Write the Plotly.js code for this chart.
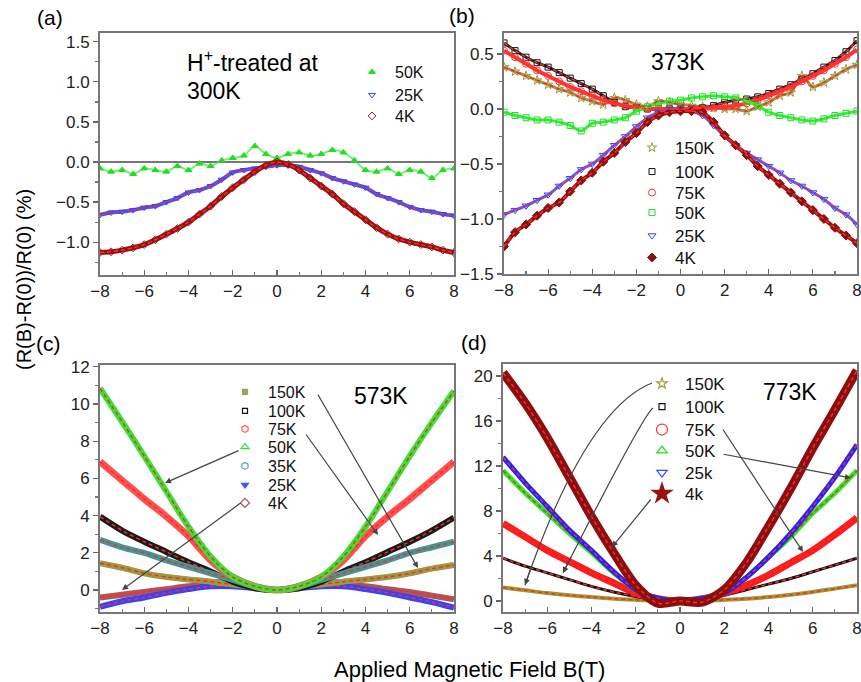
<!DOCTYPE html>
<html>
<head>
<meta charset="utf-8">
<script src="https://cdn.plot.ly/plotly-3.0.1.min.js"></script>
<style>html,body{margin:0;padding:0;background:#fff}#chart{width:861px;height:682px}</style>
</head>
<body>
<div id="chart"></div>
<script>
// ---------------- DATA ----------------
const B_ab = [-8,-7.5,-7,-6.5,-6,-5.5,-5,-4.5,-4,-3.5,-3,-2.5,-2,-1.5,-1,-0.5,0,0.5,1,1.5,2,2.5,3,3.5,4,4.5,5,5.5,6,6.5,7,7.5,8];
const B_cd = [-8,-7,-6,-5,-4,-3,-2,-1,0,1,2,3,4,5,6,7,8];

// (a) H+-treated at 300K
const a_50K = [-0.08,-0.12,-0.1,-0.15,-0.08,-0.1,-0.12,-0.05,-0.1,-0.02,-0.05,0.02,0.05,0.08,0.2,0.1,0.05,0.1,0.12,0.08,0.1,0.15,0.12,0.02,-0.1,-0.12,-0.08,-0.15,-0.1,-0.12,-0.2,-0.1,-0.08];
const a_25K = [-0.66,-0.63,-0.62,-0.6,-0.57,-0.55,-0.5,-0.45,-0.38,-0.35,-0.3,-0.22,-0.13,-0.1,-0.08,-0.06,-0.04,-0.04,-0.06,-0.1,-0.14,-0.2,-0.24,-0.28,-0.32,-0.4,-0.45,-0.5,-0.56,-0.6,-0.62,-0.65,-0.67];
const a_4K  = [-1.13,-1.12,-1.1,-1.07,-1.03,-0.97,-0.9,-0.83,-0.75,-0.65,-0.55,-0.43,-0.32,-0.22,-0.12,-0.04,0.0,-0.03,-0.1,-0.2,-0.3,-0.4,-0.52,-0.62,-0.72,-0.82,-0.9,-0.96,-1.0,-1.03,-1.06,-1.1,-1.13];

// (b) 373K
const b_150K = [0.38,0.34,0.3,0.26,0.22,0.18,0.15,0.1,0.07,0.04,0.1,0.08,0.04,0.02,0.07,0.06,0.04,0.03,0.02,0.01,0.0,0.0,-0.02,0.02,0.06,0.12,0.15,0.3,0.2,0.24,0.3,0.36,0.4];
const b_100K = [0.6,0.53,0.47,0.42,0.38,0.33,0.28,0.23,0.18,0.12,0.06,0.02,0.01,0.0,0.0,0.0,0.0,0.0,0.01,0.03,0.06,0.08,0.09,0.11,0.14,0.18,0.22,0.27,0.32,0.38,0.44,0.52,0.62];
const b_75K  = [0.53,0.47,0.41,0.35,0.3,0.25,0.2,0.16,0.12,0.08,0.05,0.03,0.01,0.0,0.0,0.0,0.0,0.0,0.0,0.01,0.02,0.03,0.05,0.08,0.12,0.16,0.2,0.25,0.3,0.35,0.41,0.47,0.54];
const b_50K  = [-0.03,-0.06,-0.08,-0.1,-0.1,-0.12,-0.15,-0.2,-0.13,-0.12,-0.1,-0.08,-0.02,0.02,0.05,0.07,0.08,0.1,0.11,0.12,0.11,0.1,0.07,0.03,-0.03,-0.06,-0.08,-0.1,-0.11,-0.09,-0.06,-0.04,-0.02];
const b_25K  = [-0.96,-0.92,-0.88,-0.83,-0.78,-0.7,-0.63,-0.55,-0.5,-0.42,-0.33,-0.25,-0.16,-0.08,-0.03,0.0,0.0,-0.02,-0.06,-0.15,-0.25,-0.33,-0.4,-0.46,-0.52,-0.58,-0.65,-0.7,-0.76,-0.82,-0.9,-0.96,-1.05];
const b_4K   = [-1.25,-1.12,-1.05,-0.97,-0.9,-0.85,-0.75,-0.65,-0.58,-0.48,-0.4,-0.3,-0.22,-0.12,-0.06,-0.03,-0.02,-0.02,-0.03,-0.12,-0.24,-0.33,-0.42,-0.52,-0.6,-0.68,-0.76,-0.84,-0.92,-1.0,-1.08,-1.15,-1.22];

// (c) 573K
const c_150K = [1.45,1.2,0.9,0.7,0.57,0.45,0.3,0.15,0,0.15,0.3,0.45,0.57,0.7,0.9,1.15,1.35];
const c_100K = [3.95,3.2,2.6,2.05,1.5,1.0,0.45,0.1,0,0.1,0.45,1.0,1.5,2.05,2.6,3.2,3.9];
const c_75K  = [6.9,5.9,4.9,3.95,2.9,1.6,0.7,0.2,0,0.2,0.7,1.6,2.9,3.95,4.9,5.9,6.9];
const c_50K  = [10.85,9.05,7.2,5.3,3.4,1.8,0.7,0.2,0,0.2,0.7,1.8,3.4,5.3,7.2,9.0,10.7];
const c_35K  = [2.7,2.3,2.0,1.6,1.25,0.9,0.55,0.2,0,0.2,0.55,0.9,1.25,1.6,2.0,2.3,2.6];
const c_25K  = [-0.9,-0.6,-0.4,-0.15,0.05,0.2,0.2,0.1,0,0.1,0.2,0.2,0.05,-0.15,-0.4,-0.65,-0.95];
const c_4K   = [-0.4,-0.25,-0.1,0.05,0.2,0.4,0.4,0.15,0,0.15,0.4,0.4,0.2,0.05,-0.1,-0.3,-0.5];

// (d) 773K
const d_150K = [1.2,0.95,0.7,0.5,0.35,0.2,0.1,0.02,0,0.02,0.1,0.2,0.35,0.55,0.8,1.1,1.4];
const d_100K = [3.8,3.1,2.5,1.9,1.3,0.8,0.4,0.1,0,0.1,0.5,1.0,1.5,2.0,2.6,3.2,3.8];
const d_75K  = [6.9,5.7,4.5,3.5,2.5,1.6,0.7,0.2,0,0.2,0.7,1.4,2.3,3.4,4.5,5.9,7.4];
const d_50K  = [11.6,9.6,7.8,6.0,4.3,2.5,1.0,0.25,0,0.25,0.8,2.1,3.9,5.7,7.8,9.6,11.6];
const d_25K  = [12.8,10.5,8.4,6.3,4.5,2.6,1.0,0.25,0,0.25,0.7,2.1,3.9,6.0,8.4,11.0,13.9];
const d_4K   = [20.3,17.6,14.5,11.0,7.5,4.3,1.4,-0.2,0,-0.1,1.0,3.4,6.6,10.0,13.6,17.0,20.5];

const xTicks = [-8,-6,-4,-2,0,2,4,6,8];

// ---------------- HELPERS ----------------
const W = 861, H = 682;
const px = v => v / W, py = v => 1 - v / H;
const FIT = '#ff2a2a';
const FONT = 'Arial, "Liberation Sans", sans-serif';
const traces = [];
const legends = {};
let legCount = 0;
function newLegend(mx, my, size) {
  legCount += 1;
  const id = legCount === 1 ? 'legend' : 'legend' + legCount;
  legends[id] = {x: px(mx - 23), y: py(my), xanchor: 'left', yanchor: 'middle', bgcolor: 'rgba(0,0,0,0)',
    font: {family: FONT, size, color: '#111'}, itemwidth: 36, itemsizing: 'trace'};
  return id;
}
function band(x, y, ax, color, width, opacity) {
  traces.push({x, y, xaxis: 'x' + ax, yaxis: 'y' + ax, mode: 'lines', showlegend: false, hoverinfo: 'skip',
    opacity: opacity || 1, line: {color, width, shape: 'spline', smoothing: 0.8}});
}
function fit(x, y, ax) {
  traces.push({x, y, xaxis: 'x' + ax, yaxis: 'y' + ax, mode: 'lines', showlegend: false, hoverinfo: 'skip',
    line: {color: FIT, width: 1.5, dash: '4px,3px', shape: 'spline', smoothing: 0.8}});
}
function pts(x, y, ax, name, symbol, color, size, lg) {
  traces.push({x, y, xaxis: 'x' + ax, yaxis: 'y' + ax, mode: 'markers', name, legend: newLegend(lg[0], lg[1], lg[2]),
    marker: {symbol, color, size, line: {color, width: 1}}});
}
function legOnly(ax, name, symbol, color, size, lg) {
  traces.push({x: [null], y: [null], xaxis: 'x' + ax, yaxis: 'y' + ax, mode: 'markers', name, legend: newLegend(lg[0], lg[1], lg[2]),
    marker: {symbol, color, size, line: {color, width: 1.2}}});
}

// (a)
band(B_ab, a_50K, '', '#33ee33', 2, 0.7);
pts(B_ab, a_50K, '', '50K', 'triangle-up', '#22dd22', 6, [372, 72, 16]);
band(B_ab, a_25K, '', '#4455ff', 4);
pts(B_ab, a_25K, '', '25K', 'triangle-down-open', '#3344ff', 6, [372, 95, 16]);
fit(B_ab, a_25K, '');
band(B_ab, a_4K, '', '#9a1010', 5);
pts(B_ab, a_4K, '', '4K', 'diamond-open', '#8b1a1a', 6, [372, 116, 16]);
fit(B_ab, a_4K, '');

// (b)
band(B_ab, b_150K, '2', '#9a9a40', 3);
pts(B_ab, b_150K, '2', '150K', 'star-open', '#9a9a40', 7, [652, 148, 17]);
band(B_ab, b_100K, '2', '#222222', 3);
pts(B_ab, b_100K, '2', '100K', 'square-open', '#111111', 6, [652, 172, 17]);
band(B_ab, b_75K, '2', '#ff3333', 4);
pts(B_ab, b_75K, '2', '75K', 'circle-open', '#ff3333', 7, [652, 193, 17]);
band(B_ab, b_50K, '2', '#33ee33', 3);
pts(B_ab, b_50K, '2', '50K', 'square-open', '#22dd22', 6, [652, 213, 17]);
band(B_ab, b_25K, '2', '#5566ff', 3);
pts(B_ab, b_25K, '2', '25K', 'triangle-down-open', '#3344ff', 7, [652, 236, 17]);
band(B_ab, b_4K, '2', '#9a1010', 4);
pts(B_ab, b_4K, '2', '4K', 'diamond', '#8b1010', 7, [652, 258, 17]);
fit(B_ab, b_150K, '2'); fit(B_ab, b_100K, '2'); fit(B_ab, b_25K, '2'); fit(B_ab, b_4K, '2');

// (c) legend
legOnly('3', '150K', 'square', '#a0a060', 5, [245, 392, 16]);
legOnly('3', '100K', 'square-open', '#111111', 5, [245, 411, 16]);
legOnly('3', '75K', 'hexagon-open', '#ff5555', 7, [245, 429, 16]);
legOnly('3', '50K', 'triangle-up-open', '#33dd33', 7, [245, 447, 16]);
legOnly('3', '35K', 'hexagon-open', '#55aaaa', 7, [245, 466, 16]);
legOnly('3', '25K', 'triangle-down', '#4455ff', 6, [245, 485, 16]);
legOnly('3', '4K', 'diamond-open', '#b05050', 7, [245, 503, 16]);
// (c) curves
band(B_cd, c_4K, '3', '#b05555', 6);   fit(B_cd, c_4K, '3');
band(B_cd, c_25K, '3', '#3344ff', 6);  fit(B_cd, c_25K, '3');
band(B_cd, c_150K, '3', '#9a9a40', 6); fit(B_cd, c_150K, '3');
band(B_cd, c_100K, '3', '#1a1a1a', 6); fit(B_cd, c_100K, '3');
band(B_cd, c_35K, '3', '#3d9999', 6);  fit(B_cd, c_35K, '3');
band(B_cd, c_75K, '3', '#ff5050', 7);  fit(B_cd, c_75K, '3');
band(B_cd, c_50K, '3', '#33e633', 6);  fit(B_cd, c_50K, '3');

// (d) legend
legOnly('4', '150K', 'star-open', '#a0a040', 8, [662, 384, 17]);
legOnly('4', '100K', 'square-open', '#111111', 6, [662, 407, 17]);
legOnly('4', '75K', 'circle-open', '#ff3333', 11, [662, 430, 17]);
legOnly('4', '50K', 'triangle-up-open', '#22dd22', 9, [662, 451, 17]);
legOnly('4', '25k', 'triangle-down-open', '#3344ff', 9, [662, 473, 17]);
legOnly('4', '4k', 'star', '#991111', 15, [662, 494, 17]);
// (d) curves
band(B_cd, d_150K, '4', '#9a9a30', 4); fit(B_cd, d_150K, '4');
band(B_cd, d_100K, '4', '#111111', 3); fit(B_cd, d_100K, '4');
band(B_cd, d_75K, '4', '#ff1a1a', 7);  fit(B_cd, d_75K, '4');
band(B_cd, d_50K, '4', '#22ee22', 5);  fit(B_cd, d_50K, '4');
band(B_cd, d_25K, '4', '#2222ff', 5);  fit(B_cd, d_25K, '4');
band(B_cd, d_4K, '4', '#8b0f0f', 9);   fit(B_cd, d_4K, '4');

// ---------------- LAYOUT ----------------
function xax(dom, anchor) {
  return {domain: dom, anchor, range: [-8, 8], tickvals: xTicks, ticks: 'inside', ticklen: 5, tickwidth: 1.2,
    tickcolor: '#666', showline: true, mirror: true, linecolor: '#777', linewidth: 2, showgrid: false, zeroline: false,
    ticklabeloverflow: 'allow',
    minor: {dtick: 1, ticks: 'inside', ticklen: 3, tickcolor: '#777'},
    tickfont: {family: FONT, size: 17, color: '#222'}};
}
function yax(dom, anchor, range, dtick, fmt) {
  return {domain: dom, anchor, range, dtick, tick0: 0, tickformat: fmt, ticks: 'outside', ticklen: 5, tickwidth: 1.2,
    tickcolor: '#666', showline: true, mirror: true, linecolor: '#777', linewidth: 2, showgrid: false, zeroline: false,
    ticklabeloverflow: 'allow',
    minor: {dtick: dtick / 2, ticks: 'outside', ticklen: 3, tickcolor: '#777'},
    tickfont: {family: FONT, size: 17, color: '#222'}};
}
function txt(x, y, text, size, anchor, extra) {
  return Object.assign({xref: 'paper', yref: 'paper', x: px(x), y: py(y), text, showarrow: false,
    xanchor: anchor || 'center', yanchor: 'middle', font: {family: FONT, size, color: '#000'}}, extra || {});
}
function arrow(tx, ty, fx, fy) {
  return {xref: 'paper', yref: 'paper', x: px(tx), y: py(ty), ax: fx - tx, ay: fy - ty, text: '',
    showarrow: true, arrowhead: 2, arrowsize: 1, arrowwidth: 1.2, arrowcolor: '#444'};
}

const yaA = yax([py(275), py(33)], 'x', [-1.41, 1.61], 0.5, '.1f');
yaA.zeroline = true; yaA.zerolinecolor = '#777'; yaA.zerolinewidth = 1.5;
const yaB = yax([py(274), py(33)], 'x2', [-1.5, 0.69], 0.5, '.1f');
const yaC = yax([py(612), py(365)], 'x3', [-1.18, 12.1], 2, 'd');
const yaD = yax([py(612), py(364)], 'x4', [-0.98, 21.07], 4, 'd');

const layout = Object.assign({
  width: W, height: H, margin: {l: 0, r: 0, t: 0, b: 0},
  paper_bgcolor: '#fff', plot_bgcolor: '#fff', showlegend: true,
  xaxis: xax([px(100), px(454)], 'y'), yaxis: yaA,
  xaxis2: xax([px(504), px(857)], 'y2'), yaxis2: yaB,
  xaxis3: xax([px(100), px(454)], 'y3'), yaxis3: yaC,
  xaxis4: xax([px(503), px(857)], 'y4'), yaxis4: yaD,
  annotations: [
    txt(50, 18, '(a)', 21), txt(462, 16, '(b)', 21), txt(48, 343, '(c)', 21), txt(474, 342, '(d)', 21),
    txt(185, 61, 'H<sup>+</sup>-treated at', 23, 'left'), txt(185, 91, '300K', 23, 'left'),
    txt(678, 62, '373K', 23), txt(381, 396, '573K', 23), txt(790, 392, '773K', 23),
    txt(24, 280, '(R(B)-R(0))/R(0) (%)', 20, 'center', {textangle: -90}),
    txt(470, 669, 'Applied Magnetic Field B(T)', 22),
    arrow(165, 483, 240, 450), arrow(122, 590, 242, 502), arrow(378, 535, 305, 433), arrow(418, 568, 317, 393),
    arrow(612, 547, 652, 498), arrow(803, 552, 722, 428), arrow(851, 478, 722, 454),
    arrow(525, 585, 532, 565), arrow(563, 573, 572, 555)
  ],
  shapes: [
    {type: 'path', xref: 'paper', yref: 'paper', line: {color: '#444', width: 1.2},
     path: `M ${px(652)},${py(383)} Q ${px(586)},${py(409)} ${px(525)},${py(585)}`},
    {type: 'path', xref: 'paper', yref: 'paper', line: {color: '#444', width: 1.2},
     path: `M ${px(653)},${py(408)} Q ${px(643)},${py(415)} ${px(563)},${py(573)}`}
  ]
}, legends);

Plotly.newPlot('chart', traces, layout, {displayModeBar: false, staticPlot: true});
</script>
</body>
</html>
